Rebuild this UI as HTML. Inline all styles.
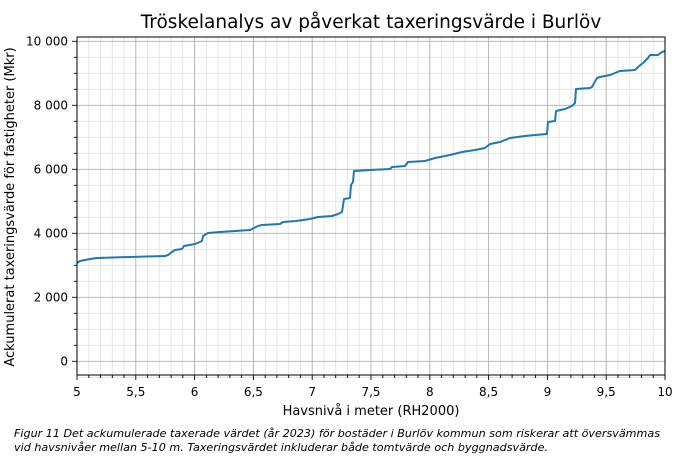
<!DOCTYPE html>
<html><head><meta charset="utf-8"><style>
body{margin:0;background:#fff;width:700px;height:459px;overflow:hidden;font-family:"Liberation Sans","DejaVu Sans",sans-serif}
</style></head><body>
<svg width="700" height="459" xmlns="http://www.w3.org/2000/svg" font-family="DejaVu Sans, Liberation Sans, sans-serif">
<g stroke="#e4e4e4" stroke-width="0.9">
<path d="M88.8 37V375M100.5 37V375M112.3 37V375M124 37V375M147.6 37V375M159.3 37V375M171.1 37V375M182.8 37V375M206.4 37V375M218.1 37V375M229.9 37V375M241.6 37V375M265.2 37V375M276.9 37V375M288.7 37V375M300.4 37V375M324 37V375M335.7 37V375M347.5 37V375M359.2 37V375M382.8 37V375M394.5 37V375M406.3 37V375M418 37V375M441.6 37V375M453.3 37V375M465.1 37V375M476.8 37V375M500.4 37V375M512.1 37V375M523.9 37V375M535.6 37V375M559.2 37V375M570.9 37V375M582.7 37V375M594.4 37V375M618 37V375M629.7 37V375M641.5 37V375M653.2 37V375"/>
<path d="M77 377.3H665M77 345.3H665M77 329.3H665M77 313.3H665M77 281.3H665M77 265.3H665M77 249.3H665M77 217.3H665M77 201.3H665M77 185.3H665M77 153.3H665M77 137.3H665M77 121.3H665M77 89.3H665M77 73.3H665M77 57.3H665"/>
</g>
<g stroke="#b0b0b0" stroke-width="0.9">
<path d="M135.8 37V375M194.6 37V375M253.4 37V375M312.2 37V375M371 37V375M429.8 37V375M488.6 37V375M547.4 37V375M606.2 37V375"/>
<path d="M77 361.3H665M77 297.3H665M77 233.3H665M77 169.3H665M77 105.3H665M77 41.3H665"/>
</g>
<polyline fill="none" stroke="#1f77b4" stroke-width="2" stroke-linejoin="round" points="77,263 80,261 85,260 90,259 97,258 130,257 165,256 168,255 172,252 175,250 182,249 184,246 195,244 200,242 202,241 203,236 208,233 220,232 235,231 250,230 252,229 258,226 262,225 280,224 283,222 296,221 310,219 318,217 332,216 338,214 342,212 344,199 350,198 351,185 353,182 354,171 370,170 390,169 392,167 405,166 408,162 425,161 435,158 450,155 462,152 475,150 485,148 490,144 500,142 510,138 525,136 535,135 547,134 548,122 555,121 556,111 565,109 572,106 575,103 576,89 590,88 592,87 597,78 600,77 610,75 620,71 635,70 638,67 643,63 648,58 650,55 658,55 662,52 665,51"/>
<rect x="77" y="37" width="588" height="338" fill="none" stroke="#000" stroke-width="1"/>
<g stroke="#000" stroke-width="0.9">
<path d="M77 375v5M135.8 375v5M194.6 375v5M253.4 375v5M312.2 375v5M371 375v5M429.8 375v5M488.6 375v5M547.4 375v5M606.2 375v5M665 375v5"/>
<path d="M88.8 375v3M100.5 375v3M112.3 375v3M124 375v3M147.6 375v3M159.3 375v3M171.1 375v3M182.8 375v3M206.4 375v3M218.1 375v3M229.9 375v3M241.6 375v3M265.2 375v3M276.9 375v3M288.7 375v3M300.4 375v3M324 375v3M335.7 375v3M347.5 375v3M359.2 375v3M382.8 375v3M394.5 375v3M406.3 375v3M418 375v3M441.6 375v3M453.3 375v3M465.1 375v3M476.8 375v3M500.4 375v3M512.1 375v3M523.9 375v3M535.6 375v3M559.2 375v3M570.9 375v3M582.7 375v3M594.4 375v3M618 375v3M629.7 375v3M641.5 375v3M653.2 375v3"/>
<path d="M77 361.3h-5M77 297.3h-5M77 233.3h-5M77 169.3h-5M77 105.3h-5M77 41.3h-5"/>
<path d="M77 345.3h-3M77 329.3h-3M77 313.3h-3M77 281.3h-3M77 265.3h-3M77 249.3h-3M77 217.3h-3M77 201.3h-3M77 185.3h-3M77 153.3h-3M77 137.3h-3M77 121.3h-3M77 89.3h-3M77 73.3h-3M77 57.3h-3"/>
</g>
<g font-size="12" fill="#000" text-anchor="middle">
<text x="77" y="396">5</text><text x="135.8" y="396">5,5</text><text x="194.6" y="396">6</text><text x="253.4" y="396">6,5</text><text x="312.2" y="396">7</text><text x="371" y="396">7,5</text><text x="429.8" y="396">8</text><text x="488.6" y="396">8,5</text><text x="547.4" y="396">9</text><text x="606.2" y="396">9,5</text><text x="665" y="396">10</text>
</g>
<g font-size="12" fill="#000" text-anchor="end">
<text x="68" y="365.5">0</text><text x="68" y="301.5">2 000</text><text x="68" y="237.5">4 000</text><text x="68" y="173.5">6 000</text><text x="68" y="109.5">8 000</text><text x="68" y="45.5">10 000</text>
</g>
<text x="371" y="415" font-size="13" text-anchor="middle">Havsnivå i meter (RH2000)</text>
<text transform="translate(14,207) rotate(-90)" font-size="13" text-anchor="middle">Ackumulerat taxeringsvärde för fastigheter (Mkr)</text>
<text x="371" y="28" font-size="18.5" text-anchor="middle">Tröskelanalys av påverkat taxeringsvärde i Burlöv</text>
<g font-size="11" font-style="italic" fill="#000">
<text x="14" y="437" textLength="646" lengthAdjust="spacingAndGlyphs">Figur 11 Det ackumulerade taxerade värdet (år 2023) för bostäder i Burlöv kommun som riskerar att översvämmas</text>
<text x="14" y="451" textLength="534" lengthAdjust="spacingAndGlyphs">vid havsnivåer mellan 5-10 m. Taxeringsvärdet inkluderar både tomtvärde och byggnadsvärde.</text>
</g>
</svg>
</body></html>
